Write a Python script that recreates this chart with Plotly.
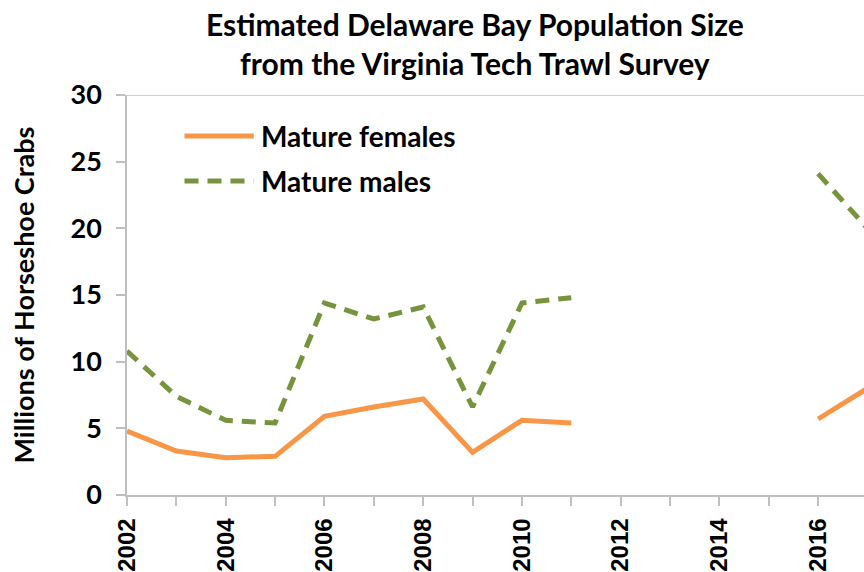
import plotly.graph_objects as go

years = [2002, 2003, 2004, 2005, 2006, 2007, 2008, 2009, 2010, 2011, 2012, 2013, 2014, 2015, 2016, 2017]
females = [4.8, 3.3, 2.8, 2.9, 5.9, 6.6, 7.2, 3.2, 5.6, 5.4, None, None, None, None, 5.7, 8.0]
males = [10.8, 7.4, 5.6, 5.4, 14.4, 13.2, 14.1, 6.6, 14.4, 14.8, None, None, None, None, 24.1, 20.0]
series_names = ["Mature females", "Mature males"]
tick_years = list(range(2002, 2018))
tick_labels = [str(y) if y % 2 == 0 else "" for y in tick_years]

ORANGE = "#F79646"
GREEN = "#77933C"
GRAY = "#BFBFBF"
TXT_FONT = "Lato"

fig = go.Figure()
fig.add_trace(go.Scatter(x=years, y=females, mode="lines", name=series_names[0],
                         line=dict(color=ORANGE, width=5), connectgaps=False, showlegend=False))
fig.add_trace(go.Scatter(x=years, y=males, mode="lines", name=series_names[1],
                         line=dict(color=GREEN, width=5, dash="14px,9px"), connectgaps=False, showlegend=False))

# manual legend (line samples + text)
fig.add_shape(type="line", xref="paper", yref="paper", x0=0.078, x1=0.172, y0=0.8975, y1=0.8975,
              line=dict(color=ORANGE, width=5))
fig.add_shape(type="line", xref="paper", yref="paper", x0=0.078, x1=0.172, y0=0.785, y1=0.785,
              line=dict(color=GREEN, width=5, dash="14px,9px"))
fig.add_annotation(xref="paper", yref="paper", x=0.179, y=0.8975, xanchor="left", yanchor="middle",
                   text=series_names[0], showarrow=False,
                   font=dict(family=TXT_FONT, size=28, color="black", weight="bold"))
fig.add_annotation(xref="paper", yref="paper", x=0.179, y=0.785, xanchor="left", yanchor="middle",
                   text=series_names[1], showarrow=False,
                   font=dict(family=TXT_FONT, size=28, color="black", weight="bold"))

# top border line at 30
fig.add_shape(type="line", xref="paper", yref="y", x0=0, x1=1, y0=30, y1=30,
              line=dict(color=GRAY, width=1.5))

fig.update_layout(
    width=864, height=572,
    margin=dict(l=127, r=0, t=95, b=77, autoexpand=False),
    paper_bgcolor="white", plot_bgcolor="white",
    title=dict(text="Estimated Delaware Bay Population Size<br>from the Virginia Tech Trawl Survey",
               x=0.472, xanchor="center", xref="paper", y=0.937, yref="container", yanchor="top",
               font=dict(family=TXT_FONT, size=30, color="black", weight="bold")),
)
fig.update_xaxes(range=[2002, 2016.93], tickmode="array", tickvals=tick_years, ticktext=tick_labels,
                 tickangle=-90, ticks="outside", ticklen=9, tickcolor=GRAY, tickwidth=1.5,
                 showline=True, linecolor=GRAY, linewidth=1.5, showgrid=False, zeroline=False,
                 ticklabelstandoff=3, automargin=False,
                 tickfont=dict(family="Liberation Sans", size=24, color="black", weight="bold"))
fig.update_yaxes(range=[0, 30], dtick=5, tick0=0, ticks="outside", ticklen=9, tickcolor=GRAY, tickwidth=1.5,
                 showline=True, linecolor=GRAY, linewidth=1.5, showgrid=False, zeroline=False,
                 ticklabelstandoff=9, automargin=False,
                 tickfont=dict(family=TXT_FONT, size=27, color="black", weight="bold"),
                 title=dict(text="Millions of Horseshoe Crabs", standoff=28,
                            font=dict(family=TXT_FONT, size=27, color="black", weight="bold")))

fig.write_html("out.html", config={"displayModeBar": False},
               post_script="document.body.style.margin='0';document.documentElement.style.overflow='hidden';")
